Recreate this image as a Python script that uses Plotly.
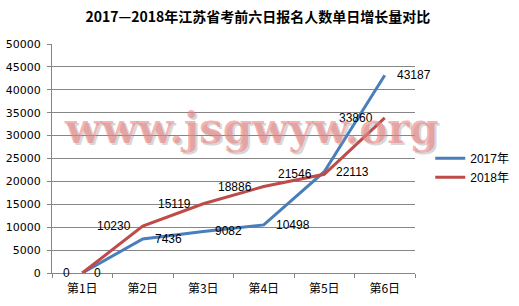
import plotly.graph_objects as go

categories = ["第1日", "第2日", "第3日", "第4日", "第5日", "第6日"]
values_2017 = [0, 7436, 9082, 10498, 22113, 43187]
values_2018 = [0, 10230, 15119, 18886, 21546, 33860]
y_ticks = list(range(0, 50001, 5000))

GRID = "#868686"
FONT = "Liberation Sans, Arial, Noto Sans CJK SC, sans-serif"

fig = go.Figure()
fig.add_trace(go.Scatter(
    x=categories, y=values_2017, name="2017年", mode="lines",
    line=dict(color="#4A7EBB", width=3),
))
fig.add_trace(go.Scatter(
    x=categories, y=values_2018, name="2018年", mode="lines",
    line=dict(color="#BE4B48", width=3),
))

# data labels: 2017 to the right, 2018 to the left
for c, v in zip(categories, values_2017):
    fig.add_annotation(x=c, y=v, text=str(v), showarrow=False,
                       xanchor="left", yanchor="middle", xshift=10,
                       font=dict(size=12, color="#000000", family=FONT))
for c, v in zip(categories, values_2018):
    fig.add_annotation(x=c, y=v, text=str(v), showarrow=False,
                       xanchor="right", yanchor="middle", xshift=-10,
                       font=dict(size=12, color="#000000", family=FONT))

# watermark
fig.add_annotation(
    text="<b>www.jsgwyw.org</b>", xref="paper", yref="paper", x=0.55, y=0.63,
    xshift=2, yshift=-2,
    showarrow=False, font=dict(family="DejaVu Serif", size=42, color="rgba(140,140,140,0.35)"),
)
fig.add_annotation(
    text="<b>www.jsgwyw.org</b>", xref="paper", yref="paper", x=0.55, y=0.63,
    showarrow=False, font=dict(family="DejaVu Serif", size=42, color="rgba(236,130,130,0.6)"),
)

fig.update_layout(
    width=519, height=306,
    margin=dict(l=52, r=104, t=44, b=33, autoexpand=False),
    paper_bgcolor="white", plot_bgcolor="white",
    font=dict(family=FONT, size=12, color="#000000"),
    title=dict(text="<b>2017—2018年江苏省考前六日报名人数单日增长量对比</b>",
               x=0.497, xanchor="center", y=0.945, yanchor="middle",
               font=dict(family="Noto Sans CJK SC", size=14, color="#000000")),
    showlegend=True,
    legend=dict(x=1.042, y=0.46, xanchor="left", yanchor="middle",
                font=dict(size=12, family=FONT), bgcolor="rgba(0,0,0,0)",
                itemwidth=30),
)
fig.update_xaxes(
    type="category", range=[-0.5, 5.5], showgrid=False,
    showline=True, linecolor=GRID, linewidth=1,
    ticks="outside", tickson="boundaries", ticklen=4, tickcolor=GRID,
    tickfont=dict(size=12, family="Noto Sans CJK SC"),
    ticklabelstandoff=5, automargin=False,
)
fig.update_yaxes(
    range=[0, 50000], tickvals=y_ticks, ticktext=[str(v) for v in y_ticks],
    showgrid=True, gridcolor=GRID, gridwidth=1,
    showline=True, linecolor=GRID, linewidth=1,
    ticks="outside", ticklen=4, tickcolor=GRID,
    tickfont=dict(size=11, family="DejaVu Sans"),
    ticklabelstandoff=4, automargin=False,
    zeroline=False,
)

fig.write_html("out.html")
